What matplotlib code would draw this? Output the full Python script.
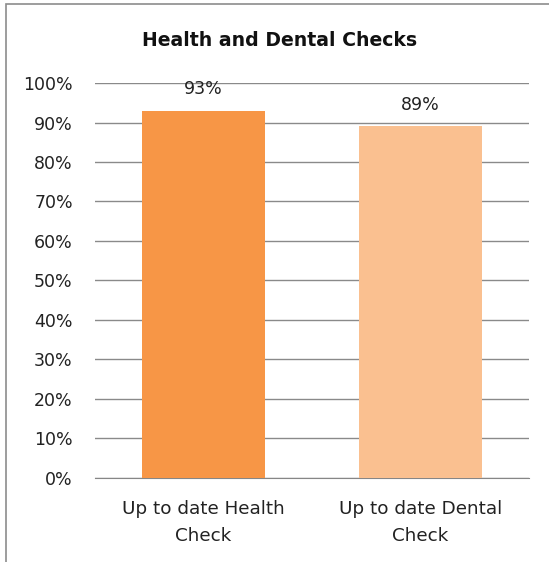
import matplotlib.pyplot as plt
from matplotlib.patches import Rectangle

categories = ['Up to date Health\nCheck', 'Up to date Dental\nCheck']
values = [93, 89]
colors = ['#F79646', '#FAC090']

fig = plt.figure(figsize=(5.49, 5.62), dpi=100)
ax = fig.add_axes([95 / 549, 0.1495, 434 / 549, 0.7028])

# chart border (cropped on right and bottom)
fig.patches.append(Rectangle((6 / 549, -0.05), 1.2, 1 - 4 / 562 + 0.05,
                             transform=fig.transFigure, fill=False,
                             edgecolor='#8C8C8C', linewidth=1.2))

bars = ax.bar(range(len(values)), values, width=0.57, color=colors, zorder=3)
ax.set_xlim(-0.5, 1.5)
ax.set_ylim(0, 100)
ax.set_yticks(range(0, 101, 10))
ax.set_yticklabels([f'{v}%' for v in range(0, 101, 10)], fontsize=12.5, color='#222222')
ax.set_xticks(range(len(values)))
ax.set_xticklabels(categories, fontsize=13.2, color='#222222', linespacing=1.6)
ax.tick_params(axis='both', length=0)
ax.tick_params(axis='y', pad=16)
ax.tick_params(axis='x', pad=16)
ax.grid(axis='y', color='#8A8A8A', linewidth=1, zorder=0)
for s in ['top', 'right', 'left']:
    ax.spines[s].set_visible(False)
ax.spines['bottom'].set_color('#868686')

for b, v in zip(bars, values):
    ax.annotate(f'{v}%', (b.get_x() + b.get_width() / 2, v), xytext=(0, 12),
                textcoords='offset points', ha='center', va='baseline',
                fontsize=12.5, color='#222222')

fig.text(280 / 549, 1 - 40 / 562, 'Health and Dental Checks', ha='center', va='center',
         fontsize=13.6, fontweight='bold', color='#111111')

fig.savefig('out.png', dpi=100)
